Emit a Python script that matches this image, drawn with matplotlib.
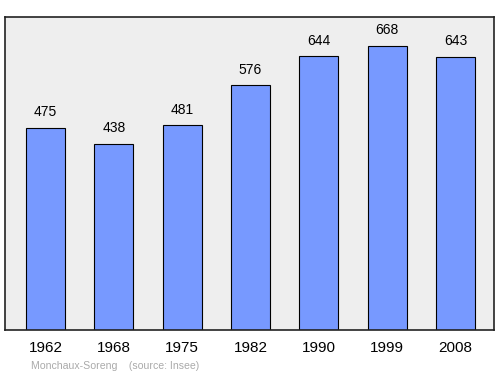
import matplotlib
matplotlib.use("Agg")
import matplotlib.pyplot as plt

years = ["1962", "1968", "1975", "1982", "1990", "1999", "2008"]
population = [475, 438, 481, 576, 644, 668, 643]
source_text = "Monchaux-Soreng    (source: Insee)"

plt.rcParams['font.family'] = ['Liberation Sans', 'DejaVu Sans']

fig = plt.figure(figsize=(5.0, 3.74), dpi=100)
ax = fig.add_axes([5/500, 1 - 330/374, 489/500, 313/374])
ax.set_facecolor('#eeeeee')
x = list(range(len(years)))
ax.bar(x, population, width=0.57, color='#7799ff', edgecolor='#000000', linewidth=0.8, zorder=2)
for xi, v in zip(x, population):
    ax.text(xi, v + 20, str(v), ha='center', va='bottom', fontsize=10, color='#000000')
ax.set_xlim(-0.593, 6.563)
ax.set_ylim(0, 736)
ax.set_yticks([])
ax.set_xticks(x)
ax.set_xticklabels(years, fontsize=11)
ax.tick_params(axis='x', length=0, pad=8)
for s in ax.spines.values():
    s.set_linewidth(1.2)
    s.set_color('#222222')
fig.text(31/500, 1 - 366/374, source_text, fontsize=7.6, color='#aaaaaa', ha='left', va='center')
fig.savefig("out.png", dpi=100)
